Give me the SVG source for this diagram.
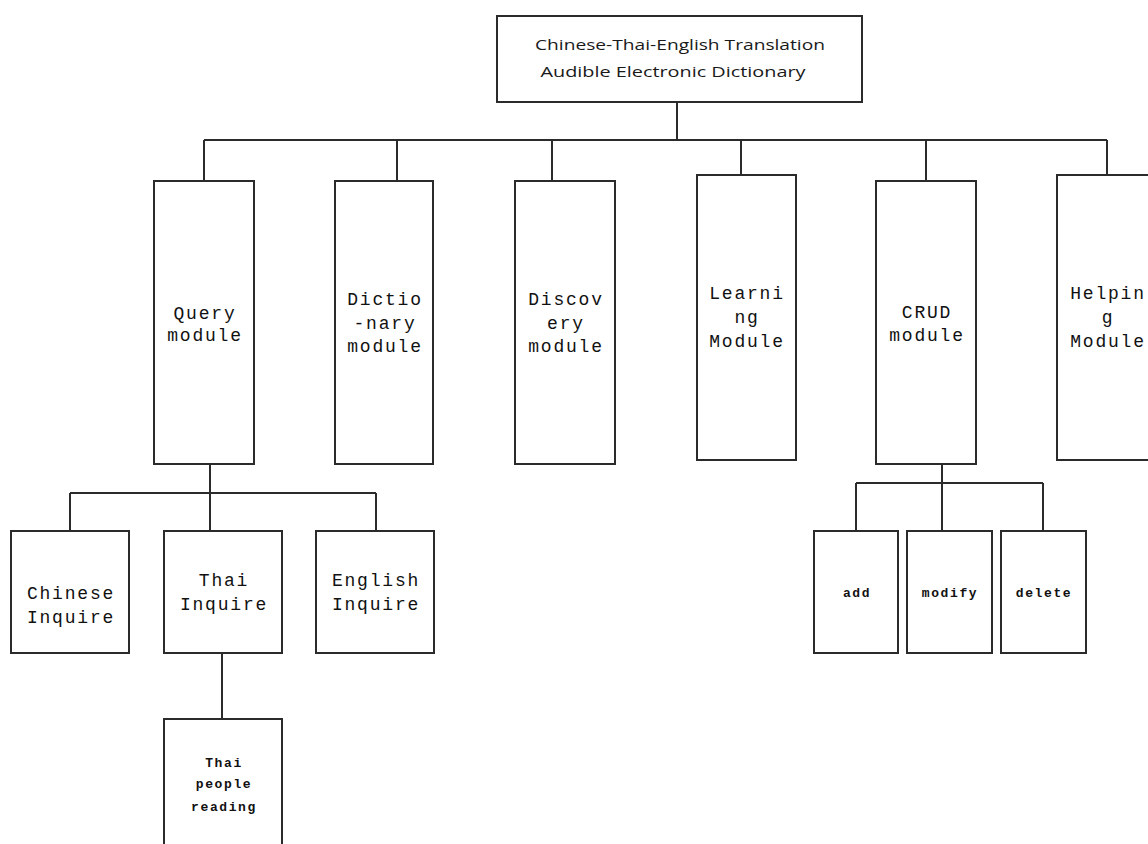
<svg xmlns="http://www.w3.org/2000/svg" width="1148" height="844" viewBox="0 0 1148 844">
<style>
.box{fill:#fff;stroke:#2b2b2b;stroke-width:2}
.ln{fill:none;stroke:#2b2b2b;stroke-width:2}
.t{font-family:"Liberation Mono",monospace;font-size:18px;letter-spacing:1.8px;fill:#111;text-anchor:middle}
.s{font-family:"Liberation Mono",monospace;font-size:13px;font-weight:bold;letter-spacing:1.6px;fill:#111;text-anchor:middle}
.h{font-family:"Open Sans","Liberation Sans",sans-serif;font-size:14.5px;fill:#1a1a1a;text-anchor:middle}
</style>
<rect width="1148" height="844" fill="#fff"/>
<g id="connectors">
<path class="ln" d="M677 102V140M204 140H1107M204 140V181M397 140V181M552 140V181M741 140V175M926 140V181M1107 140V175"/>
<path class="ln" d="M210 464V531M70 493H376M70 493V531M376 493V531"/>
<path class="ln" d="M222 653V719"/>
<path class="ln" d="M942 464V531M856 483H1043M856 483V531M1043 483V531"/>
</g>
<g id="root">
<rect class="box" x="497" y="16" width="365" height="86"/>
<text class="h" x="680" y="50" textLength="290" lengthAdjust="spacingAndGlyphs">Chinese-Thai-English Translation</text>
<text class="h" x="673" y="77" textLength="265" lengthAdjust="spacingAndGlyphs">Audible Electronic Dictionary</text>
</g>
<g id="query">
<rect class="box" x="154" y="181" width="100" height="283"/>
<text class="t" x="205" y="319">Query</text>
<text class="t" x="205" y="341">module</text>
</g>
<g id="dictionary">
<rect class="box" x="335" y="181" width="98" height="283"/>
<text class="t" x="385" y="305">Dictio</text>
<text class="t" x="385" y="329">-nary</text>
<text class="t" x="385" y="352">module</text>
</g>
<g id="discovery">
<rect class="box" x="515" y="181" width="100" height="283"/>
<text class="t" x="566" y="305">Discov</text>
<text class="t" x="566" y="329">ery</text>
<text class="t" x="566" y="352">module</text>
</g>
<g id="learning">
<rect class="box" x="697" y="175" width="99" height="285"/>
<text class="t" x="747" y="299">Learni</text>
<text class="t" x="747" y="323">ng</text>
<text class="t" x="747" y="347">Module</text>
</g>
<g id="crud">
<rect class="box" x="876" y="181" width="100" height="283"/>
<text class="t" x="927" y="318">CRUD</text>
<text class="t" x="927" y="341">module</text>
</g>
<g id="helping">
<rect class="box" x="1057" y="175" width="100" height="285"/>
<text class="t" x="1108" y="299">Helpin</text>
<text class="t" x="1108" y="323">g</text>
<text class="t" x="1108" y="347">Module</text>
</g>
<g id="chinese">
<rect class="box" x="11" y="531" width="118" height="122"/>
<text class="t" x="71" y="599">Chinese</text>
<text class="t" x="71" y="623">Inquire</text>
</g>
<g id="thai">
<rect class="box" x="164" y="531" width="118" height="122"/>
<text class="t" x="224" y="586">Thai</text>
<text class="t" x="224" y="610">Inquire</text>
</g>
<g id="english">
<rect class="box" x="316" y="531" width="118" height="122"/>
<text class="t" x="376" y="586">English</text>
<text class="t" x="376" y="610">Inquire</text>
</g>
<g id="thai-reading">
<rect class="box" x="164" y="719" width="118" height="140"/>
<text class="s" x="224" y="767">Thai</text>
<text class="s" x="224" y="788">people</text>
<text class="s" x="224" y="811">reading</text>
</g>
<g id="add">
<rect class="box" x="814" y="531" width="84" height="122"/>
<text class="s" x="857" y="597">add</text>
</g>
<g id="modify">
<rect class="box" x="907" y="531" width="85" height="122"/>
<text class="s" x="950" y="597">modify</text>
</g>
<g id="delete">
<rect class="box" x="1001" y="531" width="85" height="122"/>
<text class="s" x="1044" y="597">delete</text>
</g>
</svg>
